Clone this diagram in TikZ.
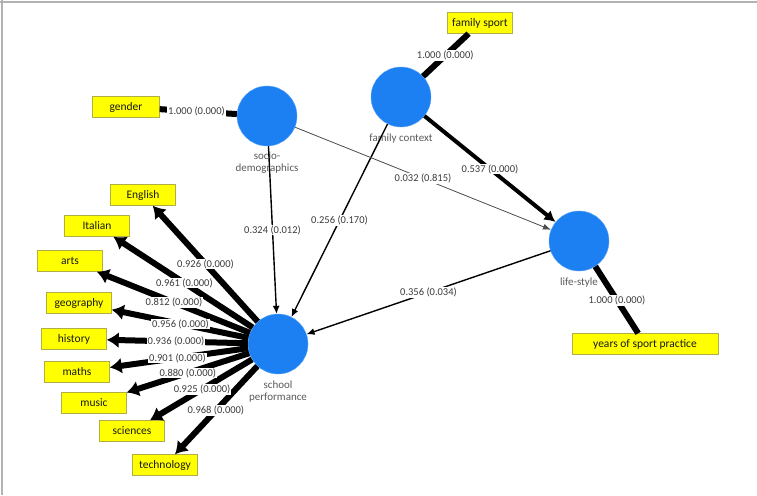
\documentclass[tikz,border=0pt]{standalone}
\usepackage{fontspec}
\setmainfont{Carlito}
\usepackage{xcolor}
\usepackage{tikz}
\usetikzlibrary{arrows.meta, positioning, calc}
\definecolor{lvblue}{RGB}{28,128,242}
\definecolor{mvyellow}{RGB}{255,255,0}
\definecolor{mvborder}{RGB}{175,175,70}
\definecolor{coeftext}{RGB}{60,60,60}

\begin{document}
\begin{tikzpicture}[x=1pt, y=-1pt, font=\fontsize{10.5}{11}\selectfont, label distance=5pt,
    lv/.style={circle, fill=lvblue, draw=lvblue!70, minimum size=60pt, inner sep=0pt},
    mv/.style={draw=mvborder, fill=mvyellow, minimum width=65pt, minimum height=21pt, inner sep=1pt, font=\fontsize{11.5}{12}\selectfont, text=black!90},
    nlab/.style={font=\fontsize{11}{12}\selectfont, text=black!65, align=center, inner sep=1pt},
    coef/.style={fill=white, text=coeftext, inner sep=0.8pt},
    load/.style={line width=6pt, -{Latex[length=12pt,width=16pt]}},
    refl/.style={line width=6pt},
    struct/.style={line width=1.4pt, -{Latex[length=8pt,width=7pt]}}]
\useasboundingbox (0,0) rectangle (757,495);
\draw[gray!60, line width=1.5pt] (0,2) -- (757,2);
\draw[gray!60, line width=1.5pt] (2,0) -- (2,495);
% Latent variables
\node[lv, label={[nlab]below:{socio-\\demographics}}] (sd) at (267,116) {};
\node[lv, label={[nlab]below:family context}] (fc) at (401,97) {};
\node[lv, label={[nlab]below:life-style}] (ls) at (579,241) {};
\node[lv, label={[nlab]below:{school\\performance}}] (sp) at (278,344) {};
% Indicators
\node[mv, minimum width=67pt] (gender) at (126,107) {gender};
\node[mv] (fsport) at (480,23) {family sport};
\node[mv, minimum width=146pt] (years) at (645,344) {years of sport practice};
\node[mv] (english) at (143,195) {English};
\node[mv] (italian) at (97,226) {Italian};
\node[mv] (arts) at (70,261) {arts};
\node[mv] (geography) at (79,303) {geography};
\node[mv] (history) at (74,339) {history};
\node[mv] (maths) at (77,372) {maths};
\node[mv] (music) at (94,403) {music};
\node[mv] (sciences) at (132,431) {sciences};
\node[mv] (technology) at (165,465) {technology};
% Outer model
\draw[refl] (gender) -- (sd);
\draw[refl] (fc) -- (fsport);
\draw[refl] (ls) -- (years);
\draw[load] (sp) -- (english);
\draw[load] (sp) -- (italian);
\draw[load] (sp) -- (arts);
\draw[load] (sp) -- (geography);
\draw[load] (sp) -- (history);
\draw[load] (sp) -- (maths);
\draw[load] (sp) -- (music);
\draw[load] (sp) -- (sciences);
\draw[load] (sp) -- (technology);
% Inner model
\draw[struct] (sd) -- (sp);
\draw[struct] (fc) -- (sp);
\draw[struct] (ls) -- (sp);
\draw[line width=4pt, -{Latex[length=11pt,width=12pt]}] (fc) -- (ls);
\draw[line width=0.8pt, black!70, -{Latex[length=8pt,width=6pt]}] (sd) -- (ls);
% Coefficients
\node[coef] (c-gender) at ($(gender)!0.5!(sd)$) {1.000 (0.000)};
\node[coef] (c-fsport) at ($(fc)!0.56!(fsport)$) {1.000 (0.000)};
\node[coef] (c-years) at ($(ls)!0.575!(years)$) {1.000 (0.000)};
\node[coef] (c-fcls) at ($(fc)!0.5!(ls)$) {0.537 (0.000)};
\node[coef] (c-sdls) at ($(sd)!0.5!(ls)$) {0.032 (0.815)};
\node[coef] (c-lssp) at ($(ls)!0.5!(sp)$) {0.356 (0.034)};
\node[coef] (c-sdsp) at ($(sd)!0.5!(sp)$) {0.324 (0.012)};
\node[coef] (c-fcsp) at ($(fc)!0.5!(sp)$) {0.256 (0.170)};
\node[coef] (c-english) at ($(sp)!0.537!(english)$) {0.926 (0.000)};
\node[coef] (c-italian) at ($(sp)!0.517!(italian)$) {0.961 (0.000)};
\node[coef] (c-arts) at ($(sp)!0.5!(arts)$) {0.812 (0.000)};
\node[coef] (c-geography) at ($(sp)!0.49!(geography)$) {0.956 (0.000)};
\node[coef] (c-history) at ($(sp)!0.5!(history)$) {0.936 (0.000)};
\node[coef] (c-maths) at ($(sp)!0.5!(maths)$) {0.901 (0.000)};
\node[coef] (c-music) at ($(sp)!0.49!(music)$) {0.880 (0.000)};
\node[coef] (c-sciences) at ($(sp)!0.52!(sciences)$) {0.925 (0.000)};
\node[coef] (c-technology) at ($(sp)!0.55!(technology)$) {0.968 (0.000)};
\end{tikzpicture}
\end{document}
